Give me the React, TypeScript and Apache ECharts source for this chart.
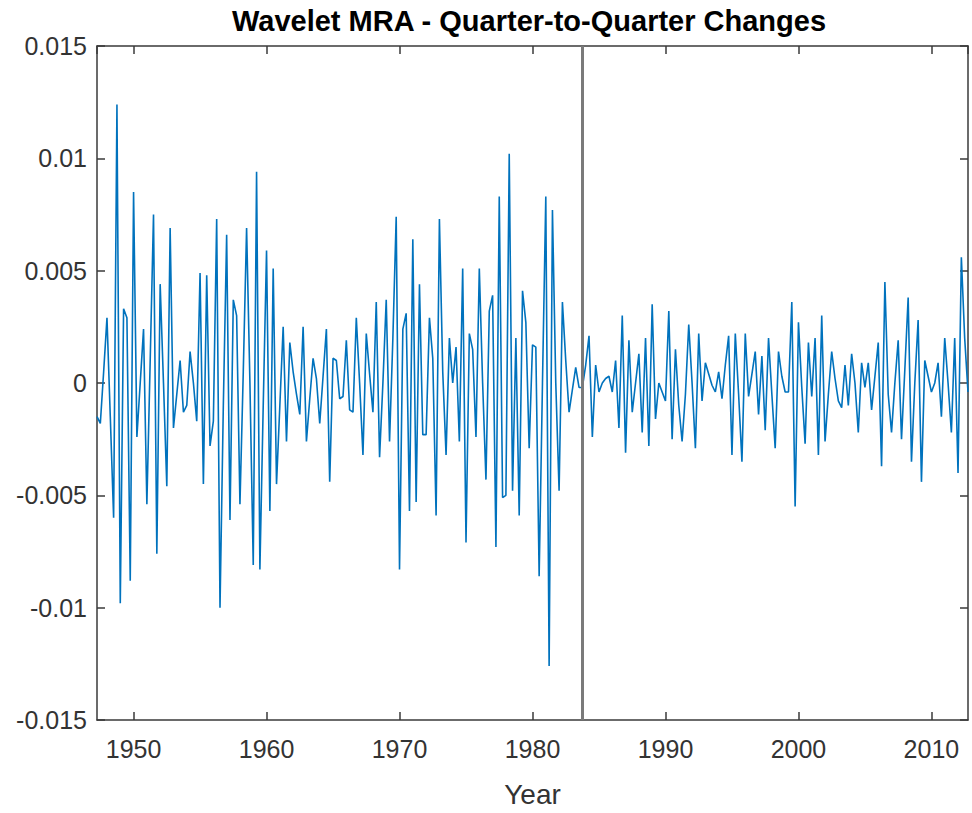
import React, { useEffect, useRef } from "react";
import * as echarts from "echarts";

// Quarterly detail series (wavelet MRA, quarter-to-quarter changes)
const START_YEAR = 1947.25;
const QUARTER = 0.25;
const BREAK_YEAR = 1983.75;

const changes1947to1957 = [
  -0.0015, -0.0018, 0.0005, 0.0029, -0.0015, -0.006, 0.0124, -0.0098, 0.0033, 0.0029,
  -0.0088, 0.0085, -0.0024, 0.0, 0.0024, -0.0054, 0.001, 0.0075, -0.0076, 0.0044,
  0.0, -0.0046, 0.0069, -0.002, -0.0005, 0.001, -0.0013, -0.001, 0.0014, 0.0,
  -0.0017, 0.0049, -0.0045, 0.0048, -0.0028, -0.0017, 0.0073, -0.01, -0.001, 0.0066,
  -0.0061, 0.0037, 0.003, -0.0054,
];
const changes1958to1968 = [
  0.0005, 0.0069, 0.0, -0.0081, 0.0094, -0.0083, -0.001, 0.0059, -0.0057, 0.0051,
  -0.0045, -0.001, 0.0025, -0.0026, 0.0018, 0.0005, -0.0005, -0.0014, 0.0025, -0.0026,
  -0.0007, 0.0011, 0.0002, -0.0018, 0.0003, 0.0024, -0.0044, 0.0011, 0.001, -0.0007,
  -0.0006, 0.0019, -0.0012, -0.0013, 0.0029, 0.0, -0.0032, 0.0022, 0.0004, -0.0013,
  0.0036, -0.0033, 0.0, 0.0037,
];
const changes1969to1982 = [
  -0.0026, 0.002, 0.0074, -0.0083, 0.0024, 0.0031, -0.0057, 0.0064, -0.0053, 0.0044,
  -0.0023, -0.0023, 0.0029, 0.0011, -0.0059, 0.0073, 0.0005, -0.0032, 0.002, 0.0,
  0.0016, -0.0026, 0.0051, -0.0071, 0.0022, 0.0015, -0.0024, 0.0051, 0.0, -0.0043,
  0.0032, 0.0039, -0.0073, 0.0083, -0.0051, -0.005, 0.0102, -0.0048, 0.002, -0.0059,
  0.0041, 0.0027, -0.0029, 0.0017, 0.0016, -0.0086, 0.0, 0.0083, -0.0126, 0.0077,
  0.0, -0.0048, 0.0036,
];
const changes1982to1997 = [
  0.001, -0.0013, -0.0003, 0.0007, -0.0002, -0.0002, 0.0008, 0.0021, -0.0024, 0.0008,
  -0.0004, 0.0, 0.0002, 0.0003, -0.0004, 0.001, -0.002, 0.003, -0.0031, 0.0019,
  -0.0013, 0.0, 0.0013, -0.0022, 0.002, -0.0028, 0.0035, -0.0016, 0.0, -0.0004,
  -0.0008, 0.0032, -0.0025, 0.0015, -0.001, -0.0026, -0.0005, 0.0026, 0.0, -0.0029,
  0.0022, -0.0008, 0.0009, 0.0004, -0.0001, -0.0004, 0.0005, -0.0007, 0.0008, 0.0021,
  -0.0032, 0.0022, -0.0005, -0.0035, 0.0022, -0.0006, 0.0004, 0.0014,
];
const changes1997to2012 = [
  -0.0014, 0.0012, -0.0021, 0.002, -0.0005, -0.0029, 0.0014, 0.0003, -0.0004, -0.0004,
  0.0036, -0.0055, 0.0027, -0.0002, -0.0027, 0.0018, -0.0006, 0.002, -0.0032, 0.003,
  -0.0026, -0.0005, 0.0014, 0.0002, -0.0008, -0.0011, 0.0008, -0.001, 0.0013, 0.0,
  -0.0022, 0.0009, -0.0002, 0.0009, -0.0012, 0.0003, 0.0018, -0.0037, 0.0045, -0.0005,
  -0.0022, 0.0, 0.0019, -0.0025, 0.0006, 0.0038, -0.0035, 0.0, 0.0028, -0.0044,
  0.001, 0.0003, -0.0004, 0.0, 0.0009, -0.0015, 0.002, 0.0, -0.0022, 0.002,
  -0.004, 0.0056, 0.002, -0.0004,
];

const X_TICKS = [1950, 1960, 1970, 1980, 1990, 2000, 2010];
const Y_MIN = -0.015;
const Y_MAX = 0.015;
const Y_STEP = 0.005;

const TITLE = "Wavelet MRA - Quarter-to-Quarter Changes";
const X_NAME = "Year";

export default function App() {
  const ref = useRef<HTMLDivElement>(null);

  useEffect(() => {
    if (!ref.current) return;
    const chart = echarts.init(ref.current, null, { renderer: "svg" });
    const values = [
      ...changes1947to1957,
      ...changes1958to1968,
      ...changes1969to1982,
      ...changes1982to1997,
      ...changes1997to2012,
    ];
    const data = values.map((v, i) => [START_YEAR + i * QUARTER, v]);
    const xMin = START_YEAR;
    const xMax = START_YEAR + (values.length - 1) * QUARTER;

    const font = "'Liberation Sans', Arial, Helvetica, sans-serif";
    const labelColor = "#333333";
    const axisLine = { show: true, onZero: false, lineStyle: { color: "#3a3a3a", width: 1.5 } };
    const tick = { show: true, inside: true, length: 8, lineStyle: { color: "#3a3a3a", width: 1.5 } };

    chart.setOption({
      animation: false,
      backgroundColor: "#ffffff",
      grid: { left: 97, right: 4, top: 46, bottom: 84, containLabel: false },
      graphic: [
        {
          type: "text",
          x: 529,
          y: 21,
          style: {
            text: TITLE,
            fill: "#000000",
            font: `bold 29px ${font}`,
            textAlign: "center",
            textVerticalAlign: "middle",
          },
        },
      ],
      xAxis: [
        {
          type: "value",
          min: xMin,
          max: xMax,
          name: X_NAME,
          nameLocation: "middle",
          nameGap: 60,
          nameTextStyle: { fontSize: 28, color: labelColor, fontFamily: font },
          axisLine,
          axisTick: tick,
          splitLine: { show: false },
          axisLabel: {
            show: true,
            margin: 16,
            fontSize: 25,
            color: labelColor,
            fontFamily: font,
            showMinLabel: false,
            showMaxLabel: false,
            formatter: (v: number) =>
              X_TICKS.includes(Math.round(v)) && Math.abs(v - Math.round(v)) < 1e-6 ? String(Math.round(v)) : "",
          },
        },
        {
          type: "value",
          position: "top",
          min: xMin,
          max: xMax,
          axisLine,
          axisTick: tick,
          splitLine: { show: false },
          axisLabel: { show: false },
        },
      ],
      yAxis: [
        {
          type: "value",
          min: Y_MIN,
          max: Y_MAX,
          interval: Y_STEP,
          axisLine,
          axisTick: tick,
          splitLine: { show: false },
          axisLabel: {
            margin: 10,
            fontSize: 25,
            color: labelColor,
            fontFamily: font,
            formatter: (v: number) => String(parseFloat(v.toFixed(3))),
          },
        },
        {
          type: "value",
          position: "right",
          min: Y_MIN,
          max: Y_MAX,
          interval: Y_STEP,
          axisLine,
          axisTick: tick,
          splitLine: { show: false },
          axisLabel: { show: false },
        },
      ],
      series: [
        {
          type: "line",
          data,
          xAxisIndex: 0,
          yAxisIndex: 0,
          showSymbol: false,
          symbol: "none",
          lineStyle: { color: "#0072BD", width: 1.6 },
          itemStyle: { color: "#0072BD" },
          z: 2,
          markLine: {
            silent: true,
            symbol: ["none", "none"],
            label: { show: false },
            lineStyle: { color: "#7a7a7a", width: 3, type: "solid" },
            data: [{ xAxis: BREAK_YEAR }],
            z: 5,
          },
        },
      ],
    });

    return () => chart.dispose();
  }, []);

  return (
    <div
      ref={ref}
      style={{ position: "fixed", left: 0, top: 0, width: 972, height: 813, background: "#fff" }}
    />
  );
}
